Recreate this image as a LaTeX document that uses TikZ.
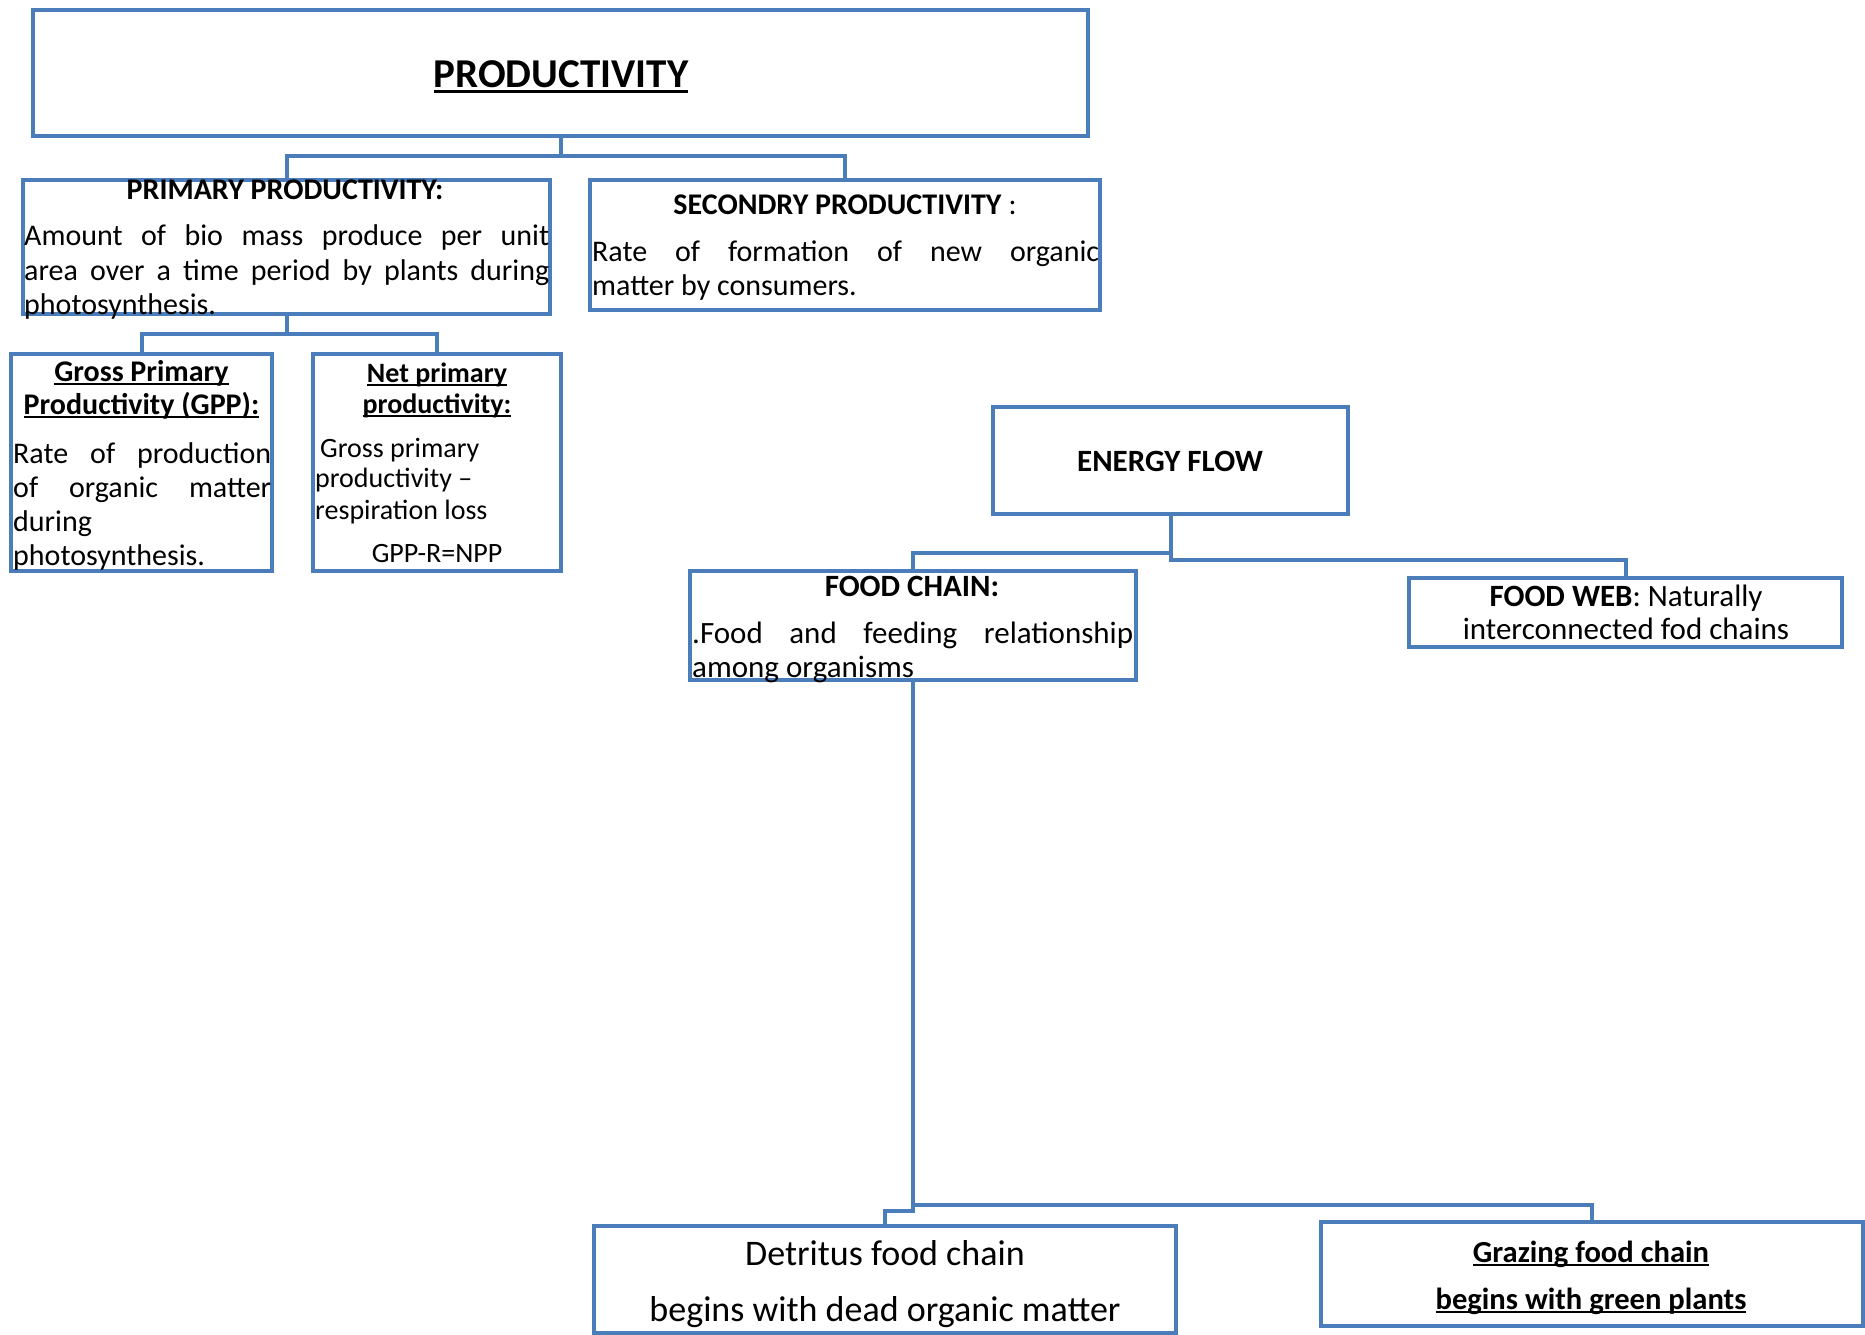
\documentclass[tikz,border=0pt]{standalone}
\usepackage{fontspec}
\setmainfont{Carlito}
\definecolor{edge}{HTML}{4A7DBA}
% underline with a rule that scales with the font size
\newcommand\undl[1]{\setbox0\hbox{#1}\rlap{\rule[-0.13em]{\wd0}{0.075em}}\box0}
\newcommand\fsz[2]{\fontsize{#1}{#2}\selectfont}
\tikzset{
  panel/.style={draw=edge, line width=4pt, fill=white, inner sep=0pt, rectangle},
  link/.style={draw=edge, line width=4pt, line join=miter},
  ctr/.style={inner sep=0pt, anchor=base, text=black},
  lft/.style={inner sep=0pt, anchor=base west, text=black},
}
\begin{document}
\begin{tikzpicture}[x=1pt,y=-1pt]
\useasboundingbox[fill=white] (0,0) rectangle (1865,1335);

% boxes
\node[panel, minimum width=1055pt, minimum height=126pt] (prod)   at (560.5,73)   {};
\node[panel, minimum width=527pt,  minimum height=134pt] (prim)   at (286.5,247)  {};
\node[panel, minimum width=510pt,  minimum height=130pt] (sec)    at (845,245)    {};
\node[panel, minimum width=261pt,  minimum height=217pt] (gpp)    at (141.5,462.5){};
\node[panel, minimum width=248pt,  minimum height=217pt] (npp)    at (437,462.5)  {};
\node[panel, minimum width=355pt,  minimum height=107pt] (energy) at (1170.5,460.5){};
\node[panel, minimum width=446pt,  minimum height=109pt] (chain)  at (913,625.5)  {};
\node[panel, minimum width=433pt,  minimum height=69pt]  (web)    at (1625.5,612.5){};
\node[panel, minimum width=582pt,  minimum height=107pt] (detr)   at (885,1279.5) {};
\node[panel, minimum width=542pt,  minimum height=104pt] (graz)   at (1592,1274)  {};

% junction points of the tree
\coordinate (j1) at (prod.south |- 0,156);
\coordinate (j2) at (prim.south |- 0,334);
\coordinate (j3) at (energy.south |- 0,553);
\coordinate (j4) at (energy.south |- 0,560);
\coordinate (j5) at (chain.south |- 0,1205);
\coordinate (j6) at (chain.south |- 0,1211);

% connectors
\draw[link] (prod.south) -- (j1);
\draw[link] (prim.north) |- (j1) -| (sec.north);
\draw[link] (prim.south) -- (j2);
\draw[link] (gpp.north) |- (j2) -| (npp.north);
\draw[link] (energy.south) -- (j4) -| (web.north);
\draw[link] (j3) -| (chain.north);
\draw[link] (chain.south) -- (j6) -| (detr.north);
\draw[link] (j5) -| (graz.north);

% productivity
\node[ctr, font=\fsz{41}{49}\bfseries] (tprod) at (561,88) {\undl{PRODUCTIVITY}};

% primary productivity
\node[ctr, font=\fsz{30}{36}\bfseries] (tprim) at (285,199) {PRIMARY PRODUCTIVITY:};
\node[lft, font=\fsz{30}{36}] (prim1) at (24,245) {\makebox[525pt][s]{Amount of bio mass produce per unit}};
\node[lft, font=\fsz{30}{36}] (prim2) at (24,280) {\makebox[525pt][s]{area over a time period by plants during}};
\node[lft, font=\fsz{30}{36}] (prim3) at (24,314) {photosynthesis.};

% secondary productivity
\node[ctr, font=\fsz{30}{36}] (tsec) at (845,214) {\textbf{SECONDRY PRODUCTIVITY} :};
\node[lft, font=\fsz{30}{36}] (sec1) at (592,261) {\makebox[507pt][s]{Rate of formation of new organic}};
\node[lft, font=\fsz{30}{36}] (sec2) at (592,295) {matter by consumers.};

% gross primary productivity
\node[ctr, font=\fsz{30}{36}\bfseries] (tgpp1) at (141.5,381) {\undl{Gross Primary}};
\node[ctr, font=\fsz{30}{36}\bfseries] (tgpp2) at (141.5,414) {\undl{Productivity (GPP):}};
\node[lft, font=\fsz{30}{36}] (gpp1) at (13,463) {\makebox[258pt][s]{Rate of production}};
\node[lft, font=\fsz{30}{36}] (gpp2) at (13,497) {\makebox[258pt][s]{of organic matter}};
\node[lft, font=\fsz{30}{36}] (gpp3) at (13,531) {during};
\node[lft, font=\fsz{30}{36}] (gpp4) at (13,565) {photosynthesis.};

% net primary productivity
\node[ctr, font=\fsz{28}{34}\bfseries] (tnpp1) at (437,382) {\undl{Net primary}};
\node[ctr, font=\fsz{28}{34}\bfseries] (tnpp2) at (437,413) {\undl{productivity:}};
\node[lft, font=\fsz{28}{34}] (npp1) at (320,457) {Gross primary};
\node[lft, font=\fsz{28}{34}] (npp2) at (315,487) {productivity –};
\node[lft, font=\fsz{28}{34}] (npp3) at (315,519) {respiration loss};
\node[ctr, font=\fsz{28}{34}] (npp4) at (437,562) {GPP-R=NPP};

% energy flow
\node[ctr, font=\fsz{31}{37}\bfseries] (tenergy) at (1170,471) {ENERGY FLOW};

% food chain
\node[ctr, font=\fsz{31}{37}\bfseries] (tchain) at (912,596) {FOOD CHAIN:};
\node[lft, font=\fsz{31}{37}] (chain1) at (692,643) {\makebox[441pt][s]{.Food and feeding relationship}};
\node[lft, font=\fsz{31}{37}] (chain2) at (692,677) {among organisms};

% food web
\node[ctr, font=\fsz{31}{37}] (web1) at (1626,606) {\textbf{FOOD WEB}: Naturally};
\node[ctr, font=\fsz{31}{37}] (web2) at (1626,639) {interconnected fod chains};

% detritus food chain
\node[ctr, font=\fsz{36}{43}] (detr1) at (885,1265) {Detritus food chain};
\node[ctr, font=\fsz{36}{43}] (detr2) at (885,1321) {begins with dead organic matter};

% grazing food chain
\node[ctr, font=\fsz{30.6}{37}\bfseries] (graz1) at (1591,1262) {\undl{Grazing food chain}};
\node[ctr, font=\fsz{30.6}{37}\bfseries] (graz2) at (1591,1309) {\undl{begins with green plants}};
\end{tikzpicture}
\end{document}
